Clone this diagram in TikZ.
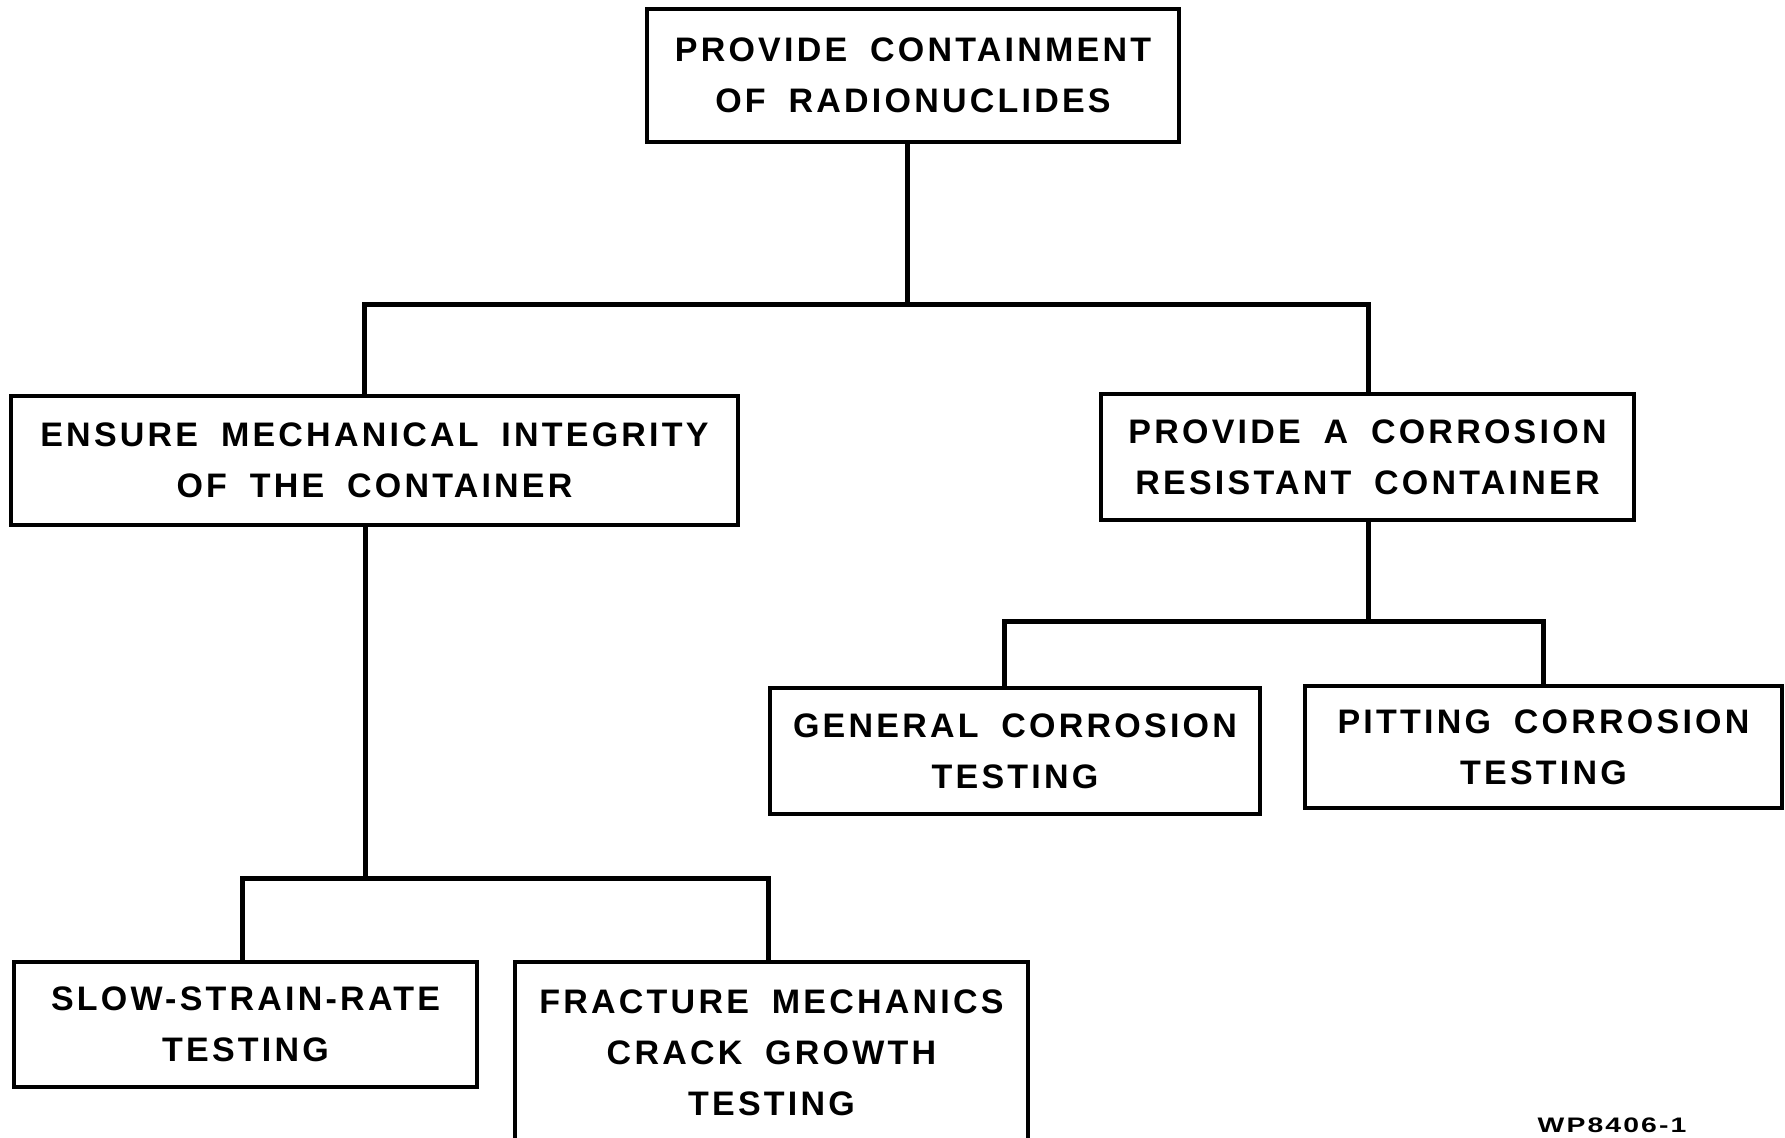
\documentclass[tikz,border=0pt]{standalone}
\usepackage{fontspec}
\newfontfamily\boxfont{Liberation Sans}[LetterSpace=9.5,WordSpace=1.8]
\newfontfamily\codefont{Liberation Sans}[FakeStretch=1.35,LetterSpace=10]
\begin{document}
\begin{tikzpicture}[x=0.5pt,y=-0.5pt,
  goal/.style={draw=black,line width=1.6pt,rectangle,align=center,inner sep=0pt,
    font=\boxfont\bfseries\fontsize{17}{25.5}\selectfont},
  conn/.style={draw=black,line width=2.5pt,line cap=rect}]
\clip (0,0) rectangle (1785,1138);
\fill[white] (0,0) rectangle (1785,1138);

% boxes of the hierarchy
\node[goal,minimum width=266pt,minimum height=66.5pt] (top) at (913,75.5)
  {PROVIDE CONTAINMENT\\OF RADIONUCLIDES};
\node[goal,minimum width=363.5pt,minimum height=64.5pt] (mech) at (374.5,460.5)
  {ENSURE MECHANICAL INTEGRITY\\OF THE CONTAINER};
\node[goal,minimum width=266.5pt,minimum height=63pt] (corr) at (1367.5,457)
  {PROVIDE A CORROSION\\RESISTANT CONTAINER};
\node[goal,minimum width=245pt,minimum height=63pt] (gen) at (1015,751)
  {GENERAL CORROSION\\TESTING};
\node[goal,minimum width=238.5pt,minimum height=61pt] (pit) at (1543.5,747)
  {PITTING CORROSION\\TESTING};
\node[goal,minimum width=231.5pt,minimum height=62.5pt] (slow) at (245.5,1024.5)
  {SLOW-STRAIN-RATE\\TESTING};
\node[goal,minimum width=256.5pt,minimum height=91pt] (frac) at (771.5,1053)
  {FRACTURE MECHANICS\\CRACK GROWTH\\TESTING};

% branch points
\coordinate (j1) at (907,305);
\coordinate (bL) at (364,305);
\coordinate (bR) at (1368,305);
\coordinate (j2) at (365,879);
\coordinate (cL) at (242,879);
\coordinate (cR) at (768,879);
\coordinate (j3) at (1368,622);
\coordinate (dL) at (1004,622);
\coordinate (dR) at (1543,622);

% connectors
\draw[conn] (top.south -| j1) -- (j1);
\draw[conn] (mech.north -| bL) -- (bL) -- (bR) -- (corr.north -| bR);
\draw[conn] (mech.south -| j2) -- (j2);
\draw[conn] (slow.north -| cL) -- (cL) -- (cR) -- (frac.north -| cR);
\draw[conn] (corr.south -| j3) -- (j3);
\draw[conn] (gen.north -| dL) -- (dL) -- (dR) -- (pit.north -| dR);

% drawing number
\node[font=\codefont\bfseries\fontsize{10.5}{12}\selectfont,inner sep=0pt] (code) at (1612,1125) {WP8406-1};
\end{tikzpicture}
\end{document}
